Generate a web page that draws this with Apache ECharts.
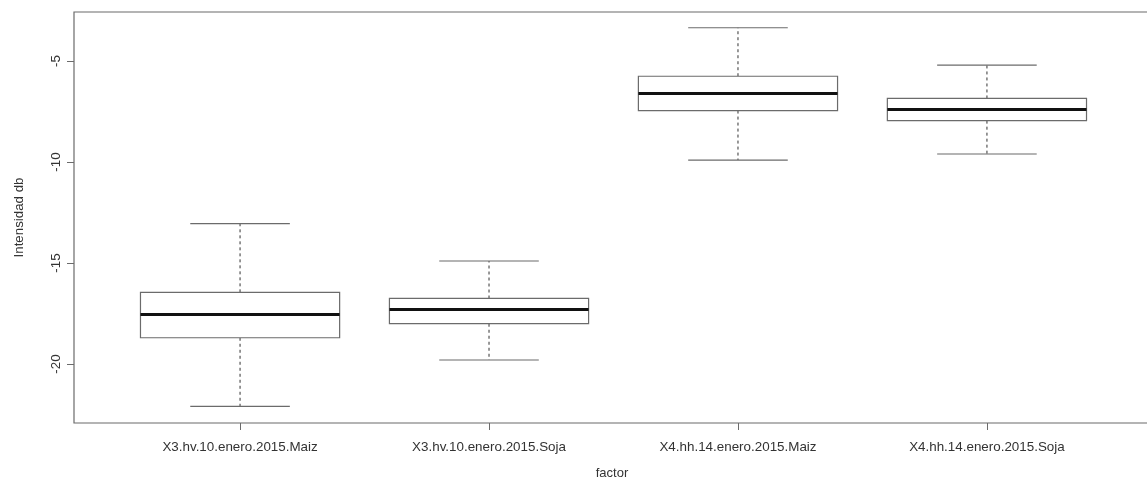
<!DOCTYPE html>
<html>
<head>
<meta charset="utf-8">
<script src="https://cdn.jsdelivr.net/npm/echarts@6/dist/echarts.min.js"></script>
<style>
  html, body { margin: 0; padding: 0; background: #fff; }
  #chart { width: 1147px; height: 489px; }
</style>
</head>
<body>
<div id="chart"></div>
<script>
// Group labels along the x axis
const categories = [
  'X3.hv.10.enero.2015.Maiz',
  'X3.hv.10.enero.2015.Soja',
  'X4.hh.14.enero.2015.Maiz',
  'X4.hh.14.enero.2015.Soja'
];
// Five-number summaries per group (dB)
const lowerWhisker = [-22.1, -19.8, -9.9, -9.6];
const q1 = [-18.7, -18.0, -7.45, -7.95];
const median = [-17.55, -17.3, -6.6, -7.4];
const q3 = [-16.45, -16.75, -5.75, -6.85];
const upperWhisker = [-13.05, -14.9, -3.35, -5.2];
// Tick values on the y axis
const yTicks = [-20, -15, -10, -5];
const xTicks = [1, 2, 3, 4];

const lineColor = '#6b6b6b';
const textColor = '#333';

const data = categories.map((c, i) => [
  i + 1, lowerWhisker[i], q1[i], median[i], q3[i], upperWhisker[i]
]);

function renderBox(params, api) {
  const x = api.value(0);
  const lw = api.value(1), lo = api.value(2), md = api.value(3), hi = api.value(4), uw = api.value(5);
  const boxHalf = 0.4, capHalf = 0.2;
  const p = (xx, yy) => api.coord([xx, yy]);
  const c = p(x, 0)[0];
  const yLw = p(x, lw)[1], yLo = p(x, lo)[1], yMd = p(x, md)[1], yHi = p(x, hi)[1], yUw = p(x, uw)[1];
  const bl = p(x - boxHalf, 0)[0], br = p(x + boxHalf, 0)[0];
  const cl = p(x - capHalf, 0)[0], cr = p(x + capHalf, 0)[0];
  const thin = { stroke: lineColor, lineWidth: 1.2 };
  const dashed = { stroke: '#555', lineWidth: 1.2, lineDash: [3, 3] };
  return {
    type: 'group',
    children: [
      { type: 'line', shape: { x1: c, y1: yHi, x2: c, y2: yUw }, style: dashed },
      { type: 'line', shape: { x1: c, y1: yLo, x2: c, y2: yLw }, style: dashed },
      { type: 'line', shape: { x1: cl, y1: yUw, x2: cr, y2: yUw }, style: thin },
      { type: 'line', shape: { x1: cl, y1: yLw, x2: cr, y2: yLw }, style: thin },
      { type: 'rect', shape: { x: bl, y: yHi, width: br - bl, height: yLo - yHi },
        style: { fill: '#fff', stroke: lineColor, lineWidth: 1.2 } },
      { type: 'line', shape: { x1: bl, y1: yMd, x2: br, y2: yMd },
        style: { stroke: '#111', lineWidth: 3 } }
    ]
  };
}

const chart = echarts.init(document.getElementById('chart'), null, { renderer: 'canvas' });
chart.setOption({
  animation: false,
  backgroundColor: '#fff',
  textStyle: { fontFamily: 'Liberation Sans, Arial, sans-serif' },
  grid: {
    left: 74, top: 12, right: -3, bottom: 66,
    outerBoundsMode: 'none',
    show: true, borderColor: lineColor, borderWidth: 1.2, backgroundColor: 'transparent'
  },
  xAxis: {
    type: 'value',
    min: 0.333, max: 4.655,
    name: 'factor',
    nameLocation: 'middle',
    nameGap: 44,
    nameTextStyle: { color: textColor, fontSize: 13 },
    axisLine: { show: false },
    splitLine: { show: false },
    axisTick: { show: true, length: 7, lineStyle: { color: lineColor }, customValues: xTicks },
    axisLabel: {
      color: textColor, fontSize: 13.4, margin: 18,
      customValues: xTicks,
      formatter: v => categories[Math.round(v) - 1] || ''
    }
  },
  yAxis: {
    type: 'value',
    min: -22.92, max: -2.57,
    name: 'Intensidad db',
    nameLocation: 'middle',
    nameGap: 48,
    nameRotate: 90,
    nameTextStyle: { color: textColor, fontSize: 13.3 },
    axisLine: { show: false },
    splitLine: { show: false },
    axisTick: { show: true, length: 7, lineStyle: { color: lineColor }, customValues: yTicks },
    axisLabel: {
      color: textColor, fontSize: 13.4, margin: 11, rotate: 90,
      customValues: yTicks
    }
  },
  series: [{
    type: 'custom',
    renderItem: renderBox,
    encode: { x: 0, y: [1, 2, 3, 4, 5] },
    data: data,
    clip: false
  }]
});
</script>
</body>
</html>
